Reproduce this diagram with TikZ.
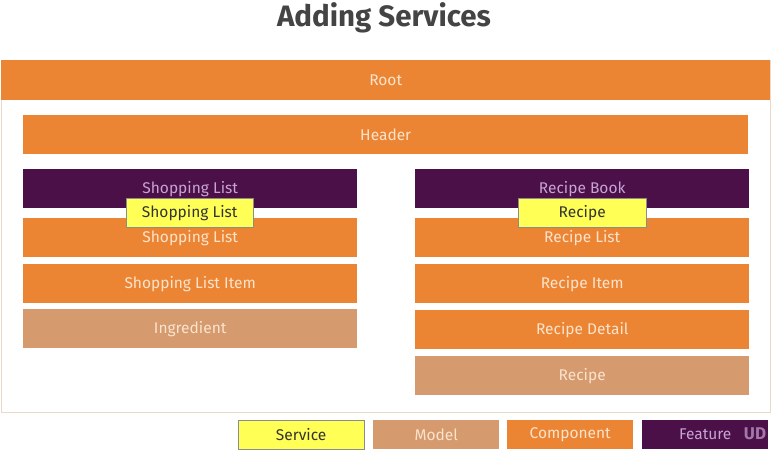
\documentclass[tikz,border=0pt]{standalone}
\usepackage{fontspec}
\setmainfont{Fira Sans}
\definecolor{compcol}{HTML}{EC8533}
\definecolor{featcol}{HTML}{4A1047}
\definecolor{modelcol}{HTML}{D59A6E}
\definecolor{servcol}{HTML}{FFFF55}
\definecolor{compfont}{HTML}{FCE3CC}
\definecolor{featfont}{HTML}{C8A3D6}
\definecolor{framecol}{HTML}{EAD8C8}
\definecolor{titlecol}{HTML}{444444}
\tikzset{
  box/.style={anchor=north west, inner sep=0pt, minimum width=334pt, minimum height=39pt, font=\fontsize{15.5}{17}\selectfont},
  comp/.style={box, fill=compcol, text=compfont},
  feat/.style={box, fill=featcol, text=featfont},
  model/.style={box, fill=modelcol, text=compfont},
  serv/.style={box, fill=servcol, draw=black!45, text=black!80, minimum width=127pt, minimum height=29pt},
  legend/.style={box, minimum width=126pt, minimum height=29pt}
}
\begin{document}
\begin{tikzpicture}[x=1pt, y=-1pt]
  \useasboundingbox (0,0) rectangle (781,456);
  % Titel
  \node[font=\fontsize{29.5}{32}\selectfont\bfseries, text=titlecol] (title) at (384,18) {Adding Services};
  % Rahmen Root
  \draw[framecol, line width=1pt] (1,60) rectangle (770,412);
  \node[comp, minimum width=769pt, minimum height=40pt] (root) at (1,60) {Root};
  \node[comp, minimum width=725pt] (header) at (23,115) {Header};
  % linke Spalte
  \node[feat] (shopfeat) at (23,169) {Shopping List};
  \node[comp] (shoplist) at (23,218) {Shopping List};
  \node[comp] (shopitem) at (23,264) {Shopping List Item};
  \node[model] (ingredient) at (23,309) {Ingredient};
  \node[serv] (shopserv) at (126,198) {Shopping List};
  % rechte Spalte
  \node[feat] (recbook) at (415,169) {Recipe Book};
  \node[comp] (reclist) at (415,218) {Recipe List};
  \node[comp] (recitem) at (415,264) {Recipe Item};
  \node[comp] (recdetail) at (415,310) {Recipe Detail};
  \node[model] (recmodel) at (415,356) {Recipe};
  \node[serv, minimum width=128pt] (recserv) at (518,198) {Recipe};
  % Legende
  \node[legend, fill=servcol, draw=black!45, text=black!80] (legserv) at (238,420) {Service};
  \node[legend, fill=modelcol, text=compfont] (legmodel) at (373,420) {Model};
  \node[legend, fill=compcol, text=compfont] (legcomp) at (507,420) {Component};
  \node[legend, fill=featcol, text=featfont] (legfeat) at (642,420) {Feature};
  \node[font=\fontsize{17}{18}\selectfont\bfseries, text=featfont!70!featcol] (ud) at (755,434) {UD};
\end{tikzpicture}
\end{document}
